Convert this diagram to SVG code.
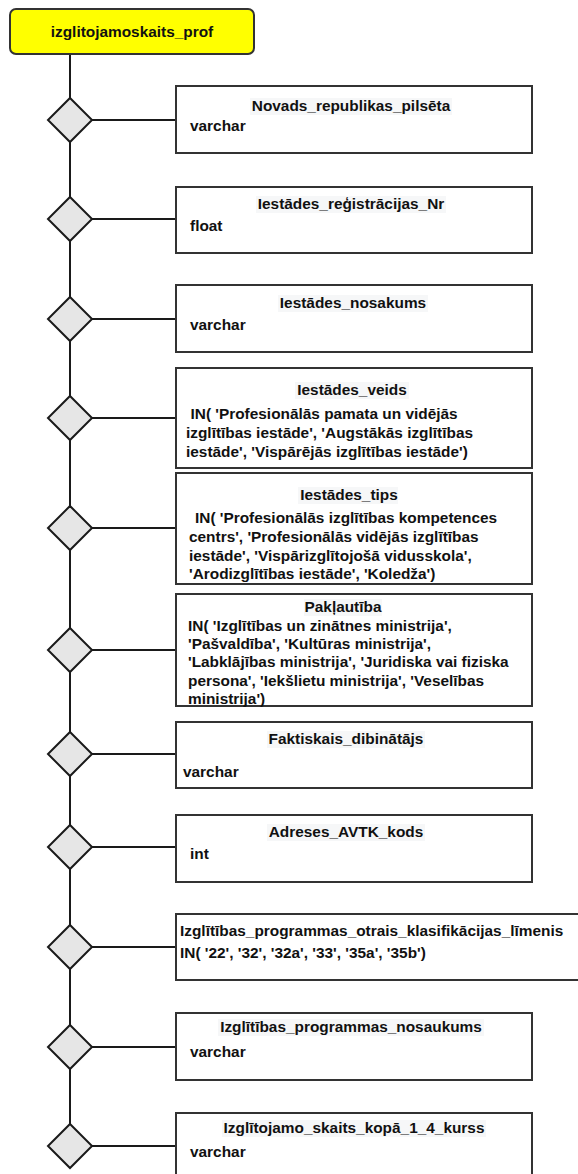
<svg xmlns="http://www.w3.org/2000/svg" width="578" height="1174" viewBox="0 0 578 1174">
  <style>
    text { font-family: "Liberation Sans", Arial, sans-serif; font-weight: bold; font-size: 15.4px; fill: #111; }
    .title { text-anchor: middle; }
    .field { fill: #fff; stroke: #333; stroke-width: 2; }
    .hl { fill: #f6f7f8; }
    .rel { fill: #e6e6e6; stroke: #1a1a1a; stroke-width: 2; }
    .link { stroke: #1a1a1a; stroke-width: 2; fill: none; }
  </style>

  <!-- connectors: spine from the entity down through each relation, and a branch to each attribute -->
  <g id="connectors">
    <path class="link" d="M70 54 V1124"/>
    <path class="link" d="M92 120 H176"/>
    <path class="link" d="M92 219 H176"/>
    <path class="link" d="M92 319 H176"/>
    <path class="link" d="M92 418 H176"/>
    <path class="link" d="M92 528 H176"/>
    <path class="link" d="M92 650 H176"/>
    <path class="link" d="M92 754 H176"/>
    <path class="link" d="M92 847 H176"/>
    <path class="link" d="M92 947 H176"/>
    <path class="link" d="M92 1047 H176"/>
    <path class="link" d="M92 1146 H176"/>
  </g>

  <!-- entity -->
  <g id="entity">
    <rect x="10" y="9" width="244" height="45" rx="6" fill="#ffff00" stroke="#333" stroke-width="2"/>
    <text class="title" x="132" y="37">izglitojamoskaits_prof</text>
  </g>

  <!-- relation diamonds on the spine -->
  <g id="rel1"><polygon class="rel" points="70,98 92,120 70,142 48,120"/></g>
  <g id="rel2"><polygon class="rel" points="70,197 92,219 70,241 48,219"/></g>
  <g id="rel3"><polygon class="rel" points="70,297 92,319 70,341 48,319"/></g>
  <g id="rel4"><polygon class="rel" points="70,396 92,418 70,440 48,418"/></g>
  <g id="rel5"><polygon class="rel" points="70,506 92,528 70,550 48,528"/></g>
  <g id="rel6"><polygon class="rel" points="70,628 92,650 70,672 48,650"/></g>
  <g id="rel7"><polygon class="rel" points="70,732 92,754 70,776 48,754"/></g>
  <g id="rel8"><polygon class="rel" points="70,825 92,847 70,869 48,847"/></g>
  <g id="rel9"><polygon class="rel" points="70,925 92,947 70,969 48,947"/></g>
  <g id="rel10"><polygon class="rel" points="70,1025 92,1047 70,1069 48,1047"/></g>
  <g id="rel11"><polygon class="rel" points="70,1124 92,1146 70,1168 48,1146"/></g>

  <!-- attributes -->
  <g id="attr-novads">
    <rect class="field" x="176" y="86" width="356" height="67"/>
    <rect class="hl" x="250" y="98" width="202" height="17"/>
    <text class="title" x="351" y="111">Novads_republikas_pilsēta</text>
    <text x="190" y="131">varchar</text>
  </g>

  <g id="attr-reg-nr">
    <rect class="field" x="176" y="187" width="356" height="66"/>
    <rect class="hl" x="256" y="196" width="190" height="17"/>
    <text class="title" x="351" y="209">Iestādes_reģistrācijas_Nr</text>
    <text x="190" y="231">float</text>
  </g>

  <g id="attr-nosakums">
    <rect class="field" x="176" y="285" width="356" height="67"/>
    <rect class="hl" x="278" y="295" width="150" height="17"/>
    <text class="title" x="353" y="308">Iestādes_nosakums</text>
    <text x="190" y="330">varchar</text>
  </g>

  <g id="attr-veids">
    <rect class="field" x="176" y="368" width="356" height="100"/>
    <rect class="hl" x="295" y="382" width="114" height="17"/>
    <text class="title" x="352" y="395">Iestādes_veids</text>
    <text x="190.5" y="419">IN( 'Profesionālās pamata un vidējās</text>
    <text x="186" y="438">izglītības iestāde', 'Augstākās izglītības</text>
    <text x="186" y="457">iestāde', 'Vispārējās izglītības iestāde')</text>
  </g>

  <g id="attr-tips">
    <rect class="field" x="176" y="473" width="356" height="111"/>
    <rect class="hl" x="298" y="487" width="100" height="17"/>
    <text class="title" x="349" y="500">Iestādes_tips</text>
    <text x="195" y="523">IN( 'Profesionālās izglītības kompetences</text>
    <text x="189" y="542">centrs', 'Profesionālās vidējās izglītības</text>
    <text x="189" y="561">iestāde', 'Vispārizglītojošā vidusskola',</text>
    <text x="189" y="579">'Arodizglītības iestāde', 'Koledža')</text>
  </g>

  <g id="attr-paklautiba">
    <rect class="field" x="176" y="594" width="356" height="112"/>
    <rect class="hl" x="304" y="599" width="78" height="17"/>
    <text class="title" x="343" y="612">Pakļautība</text>
    <text x="188" y="631">IN( 'Izglītības un zinātnes ministrija',</text>
    <text x="188" y="649">'Pašvaldība', 'Kultūras ministrija',</text>
    <text x="188" y="667">'Labklājības ministrija', 'Juridiska vai fiziska</text>
    <text x="188" y="686">persona', 'Iekšlietu ministrija', 'Veselības</text>
    <text x="188" y="704">ministrija')</text>
  </g>

  <g id="attr-dibinatajs">
    <rect class="field" x="176" y="722" width="356" height="66"/>
    <rect class="hl" x="267" y="731" width="158" height="17"/>
    <text class="title" x="346" y="744">Faktiskais_dibinātājs</text>
    <text x="183" y="777">varchar</text>
  </g>

  <g id="attr-avtk">
    <rect class="field" x="176" y="815" width="356" height="67"/>
    <rect class="hl" x="267" y="824" width="158" height="17"/>
    <text class="title" x="346" y="837">Adreses_AVTK_kods</text>
    <text x="190" y="859">int</text>
  </g>

  <g id="attr-limenis">
    <rect class="field" x="176" y="914" width="420" height="66"/>
    <text x="180" y="936">Izglītības_programmas_otrais_klasifikācijas_līmenis</text>
    <text x="180" y="958">IN( '22', '32', '32a', '33', '35a', '35b')</text>
  </g>

  <g id="attr-prog-nosaukums">
    <rect class="field" x="176" y="1013" width="356" height="67"/>
    <rect class="hl" x="218" y="1019" width="266" height="17"/>
    <text class="title" x="351" y="1032">Izglītības_programmas_nosaukums</text>
    <text x="190" y="1057">varchar</text>
  </g>

  <g id="attr-skaits">
    <rect class="field" x="176" y="1113" width="356" height="70"/>
    <rect class="hl" x="222" y="1120" width="264" height="17"/>
    <text class="title" x="354" y="1133">Izglītojamo_skaits_kopā_1_4_kurss</text>
    <text x="190" y="1157">varchar</text>
  </g>
</svg>
